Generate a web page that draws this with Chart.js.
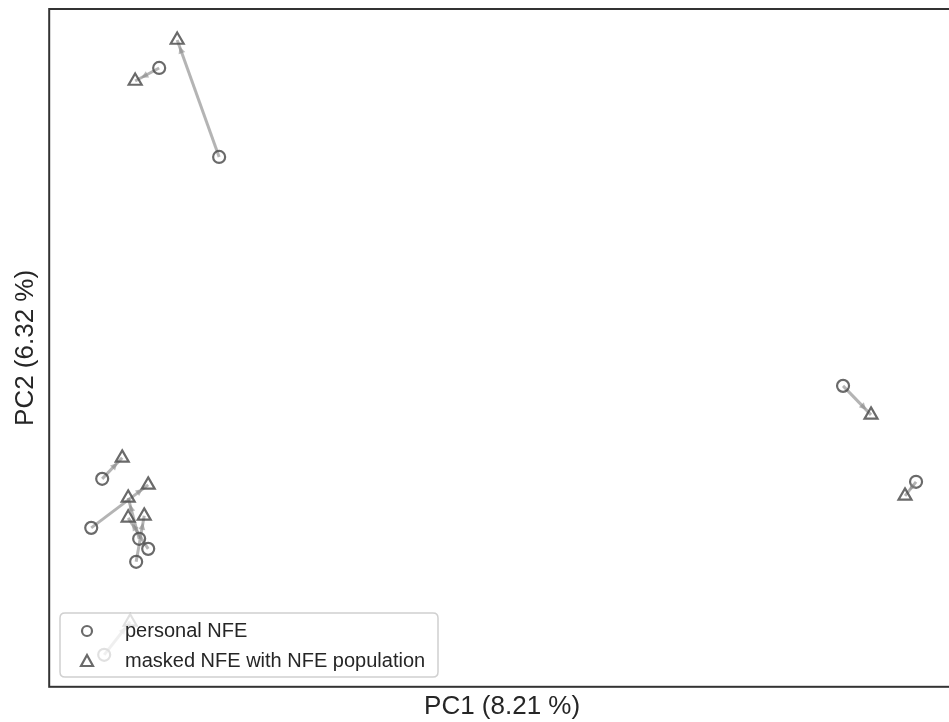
<!DOCTYPE html>
<html>
<script src="https://cdn.jsdelivr.net/npm/chart.js@4.4.0/dist/chart.umd.min.js"></script>
<style>
  html, body { margin: 0; padding: 0; overflow: hidden; background: #fff; }
</style>
<body>
<canvas id="pcaChart" width="960" height="722"></canvas>
</body>

<script>
// PCA positions, arbitrary units (0-100 across the visible frame)
var personalX = [12.14, 18.76, 5.85, 4.64, 9.93, 10.93, 9.60, 6.07, 87.64, 95.70];
var personalY = [91.30, 78.17, 30.68, 23.45, 21.83, 20.35, 18.44, 4.72, 44.40, 30.24];

var maskedX = [9.49, 14.13, 8.06, 10.93, 8.72, 8.72, 10.49, 8.94, 90.73, 94.48];
var maskedY = [89.38, 95.43, 33.78, 29.79, 27.88, 24.93, 25.22, 9.59, 40.12, 28.17];

var legendLabels = ["personal NFE", "masked NFE with NFE population"];
var xTitle = "PC1 (8.21 %)";
var yTitle = "PC2 (6.32 %)";

var FONT = "'Liberation Sans', Arial, sans-serif";
var markerColor = "rgba(80,80,80,0.85)";
var linkColor = "rgba(130,130,130,0.6)";

var datasets = [];

datasets.push({
  label: legendLabels[0],
  data: personalX.map(function (x, i) { return {x: x, y: personalY[i]}; }),
  pointStyle: "circle",
  pointRadius: 6,
  borderColor: markerColor,
  backgroundColor: "rgba(0,0,0,0)",
  borderWidth: 2.2,
  showLine: false,
  order: 0
});

datasets.push({
  label: legendLabels[1],
  data: maskedX.map(function (x, i) { return {x: x, y: maskedY[i]}; }),
  pointStyle: "triangle",
  pointRadius: 7.5,
  borderColor: markerColor,
  backgroundColor: "rgba(0,0,0,0)",
  borderWidth: 2.2,
  showLine: false,
  order: 1
});

// one segment per sample: personal -> masked
for (let i = 0; i < personalX.length; i++) {
  datasets.push({
    label: "link" + i,
    data: [{x: personalX[i], y: personalY[i]}, {x: maskedX[i], y: maskedY[i]}],
    showLine: true,
    borderColor: linkColor,
    borderWidth: 3,
    pointRadius: 0,
    fill: false,
    order: 2
  });
}

// small arrow heads just before the triangle
var arrowPlugin = {
  id: "arrows",
  afterDatasetsDraw: function (chart) {
    var ctx = chart.ctx;
    var xs = chart.scales.x, ys = chart.scales.y;
    ctx.save();
    ctx.beginPath();
    ctx.rect(chart.chartArea.left, chart.chartArea.top, chart.chartArea.width, chart.chartArea.height);
    ctx.clip();
    ctx.fillStyle = "rgba(140,140,140,0.6)";
    for (let i = 0; i < personalX.length; i++) {
      var x0 = xs.getPixelForValue(personalX[i]), y0 = ys.getPixelForValue(personalY[i]);
      var x1 = xs.getPixelForValue(maskedX[i]), y1 = ys.getPixelForValue(maskedY[i]);
      var dx = x1 - x0, dy = y1 - y0;
      var len = Math.sqrt(dx * dx + dy * dy);
      if (len < 1) continue;
      var ux = dx / len, uy = dy / len;
      var tx = x1 - ux * 7, ty = y1 - uy * 7;
      var bx = tx - ux * 7, by = ty - uy * 7;
      ctx.beginPath();
      ctx.moveTo(tx, ty);
      ctx.lineTo(bx - uy * 3.5, by + ux * 3.5);
      ctx.lineTo(bx + uy * 3.5, by - ux * 3.5);
      ctx.closePath();
      ctx.fill();
    }
    ctx.restore();
  }
};

// legend box drawn inside the plot, lower left
var legendPlugin = {
  id: "innerLegend",
  afterDatasetsDraw: function (chart) {
    var ctx = chart.ctx;
    var bx = 60, by = 613, bw = 378, bh = 64, r = 5;
    ctx.save();
    ctx.beginPath();
    ctx.moveTo(bx + r, by);
    ctx.lineTo(bx + bw - r, by);
    ctx.quadraticCurveTo(bx + bw, by, bx + bw, by + r);
    ctx.lineTo(bx + bw, by + bh - r);
    ctx.quadraticCurveTo(bx + bw, by + bh, bx + bw - r, by + bh);
    ctx.lineTo(bx + r, by + bh);
    ctx.quadraticCurveTo(bx, by + bh, bx, by + bh - r);
    ctx.lineTo(bx, by + r);
    ctx.quadraticCurveTo(bx, by, bx + r, by);
    ctx.closePath();
    ctx.fillStyle = "rgba(255,255,255,0.8)";
    ctx.fill();
    ctx.strokeStyle = "#d0d0d0";
    ctx.lineWidth = 1.5;
    ctx.stroke();

    ctx.strokeStyle = markerColor;
    ctx.lineWidth = 2.2;
    ctx.beginPath();
    ctx.arc(87, 631, 5, 0, Math.PI * 2);
    ctx.stroke();
    ctx.beginPath();
    ctx.moveTo(87, 655);
    ctx.lineTo(93, 666);
    ctx.lineTo(81, 666);
    ctx.closePath();
    ctx.stroke();

    ctx.fillStyle = "#262626";
    ctx.font = "20px " + FONT;
    ctx.textBaseline = "middle";
    ctx.fillText(legendLabels[0], 125, 631);
    ctx.fillText(legendLabels[1], 125, 661);
    ctx.restore();
  }
};

// dark frame around the plot area
var framePlugin = {
  id: "frame",
  afterDraw: function (chart) {
    var a = chart.chartArea, ctx = chart.ctx;
    ctx.save();
    ctx.strokeStyle = "#333";
    ctx.lineWidth = 2;
    ctx.strokeRect(a.left, a.top, a.right - a.left, a.bottom - a.top);
    ctx.restore();
  }
};

new Chart(document.getElementById("pcaChart"), {
  type: "scatter",
  data: {datasets: datasets},
  plugins: [arrowPlugin, legendPlugin, framePlugin],
  options: {
    responsive: false,
    animation: false,
    devicePixelRatio: 1,
    layout: {autoPadding: false, padding: {top: 9, right: 5, bottom: 0, left: 8}},
    plugins: {legend: {display: false}, tooltip: {enabled: false}},
    scales: {
      x: {
        type: "linear", min: 0, max: 100,
        ticks: {display: false},
        grid: {display: false, drawTicks: false},
        border: {display: false},
        title: {display: true, text: xTitle, color: "#262626",
                font: {family: FONT, size: 26}, padding: {top: 4, bottom: 0}}
      },
      y: {
        type: "linear", min: 0, max: 100,
        ticks: {display: false},
        grid: {display: false, drawTicks: false},
        border: {display: false},
        title: {display: true, text: yTitle, color: "#262626",
                font: {family: FONT, size: 26}, padding: {top: 2, bottom: 8}}
      }
    }
  }
});
</script>
</html>
